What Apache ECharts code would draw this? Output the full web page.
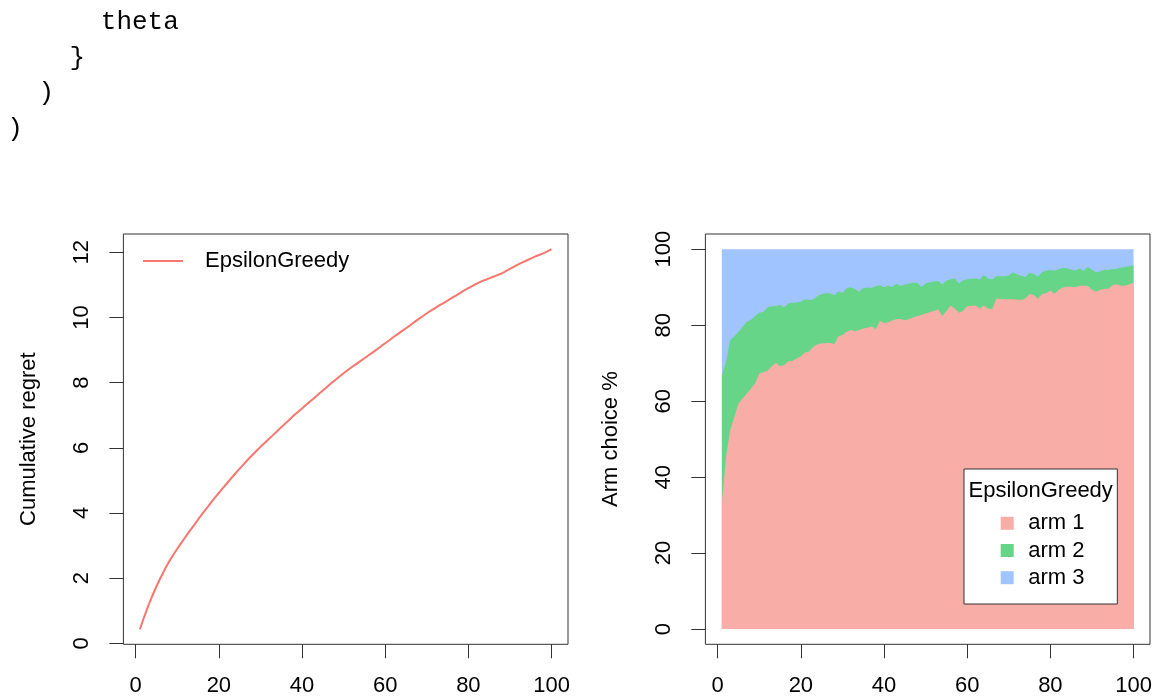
<!DOCTYPE html>
<html><head><meta charset="utf-8">
<script src="https://cdn.jsdelivr.net/npm/echarts@6/dist/echarts.min.js"></script>
<style>html,body{margin:0;padding:0;background:#fff}#c{width:1162px;height:699px}</style>
</head><body><div id="c"></div>
<script>
// ---- data ----
const codeLines = ['      theta', '    }', '  )', ')'];
const xTicks = [0, 20, 40, 60, 80, 100];
const regretTicks = [0, 2, 4, 6, 8, 10, 12];
const pctTicks = [0, 20, 40, 60, 80, 100];
const policyName = 'EpsilonGreedy';
const armNames = ['arm 1', 'arm 2', 'arm 3'];

const regret = [0.43,0.80,1.14,1.46,1.75,2.02,2.27,2.50,2.71,2.90,
3.09,3.27,3.45,3.62,3.80,3.97,4.13,4.30,4.46,4.62,
4.77,4.92,5.07,5.22,5.36,5.50,5.64,5.77,5.90,6.03,
6.15,6.27,6.39,6.51,6.63,6.75,6.87,6.99,7.10,7.21,
7.32,7.43,7.54,7.65,7.76,7.87,7.98,8.08,8.19,8.29,
8.39,8.48,8.57,8.66,8.75,8.84,8.93,9.02,9.12,9.21,
9.30,9.40,9.49,9.58,9.67,9.76,9.86,9.95,10.04,10.13,
10.21,10.29,10.37,10.44,10.52,10.60,10.67,10.75,10.83,10.90,
10.97,11.04,11.10,11.15,11.20,11.25,11.30,11.35,11.42,11.49,
11.56,11.63,11.69,11.75,11.81,11.87,11.92,11.97,12.03,12.10];

// share of arm 1 (%)
const arm1Pct = [33.3,45.4,52.4,55.9,59.4,60.7,62.0,63.3,64.7,67.3,
67.7,68.0,69.2,70.1,69.2,69.5,70.5,70.6,71.2,71.8,
72.8,73.1,74.3,75.0,75.2,75.3,75.4,75.0,77.0,77.4,
78.3,78.7,78.4,78.7,79.1,79.3,79.7,78.9,81.1,80.6,
80.8,81.2,81.6,81.6,81.3,81.6,82.0,82.4,82.7,83.1,
83.4,83.8,84.1,82.4,83.7,85.1,84.4,83.3,83.8,85.0,
85.1,85.2,84.4,85.2,84.4,84.2,87.0,86.9,86.8,86.8,
86.8,86.7,86.6,87.0,88.2,88.0,86.9,88.2,88.4,89.1,
88.3,89.3,89.9,90.1,90.1,90.0,90.4,90.4,90.3,89.3,
88.8,89.3,89.6,89.6,90.6,90.8,90.4,90.4,90.8,91.2];

// share of arm 1 + arm 2 (%)
const arm12Pct = [66.7,70.4,76.1,77.1,78.3,79.6,80.9,81.4,82.4,83.3,
83.5,84.7,85.0,85.0,85.3,84.7,85.7,85.9,86.0,86.2,
86.8,86.6,86.8,87.7,88.2,88.4,88.4,87.9,88.9,88.5,
89.7,90.0,89.5,88.8,89.8,89.9,89.8,90.3,90.5,90.0,
90.4,90.1,90.9,90.3,90.7,91.0,91.2,91.2,90.1,91.0,
91.3,91.5,91.6,90.8,91.7,92.1,92.3,91.0,91.8,92.1,
92.2,92.3,92.0,93.2,92.3,92.0,92.9,92.9,92.9,93.1,
93.9,93.4,93.0,92.7,93.8,93.5,92.8,94.0,94.4,94.5,
94.3,94.7,95.1,95.0,94.6,94.4,94.9,94.3,95.3,94.6,
93.9,94.2,94.6,94.5,94.8,94.8,95.2,95.4,95.5,95.8];

// ---- derived ----
const steps = regret.map((_, i) => i + 1);
const arm2Pct = arm12Pct.map((v, i) => v - arm1Pct[i]);
const arm3Pct = arm12Pct.map(v => 100 - v);
const cum1 = arm1Pct;
const cum2 = arm1Pct.map((v, i) => v + arm2Pct[i]);
const cum3 = cum2.map((v, i) => v + arm3Pct[i]);

const FONT = '"Liberation Sans", Arial, Helvetica, sans-serif';
const armColors = ['#F9ADA7', '#66D587', '#A0C4FF'];
const lineColor = '#F8766D';
const inkColor = '#000';
const frameColor = '#333';

function xAxisDef(gi) {
  return {
    type: 'value', gridIndex: gi, min: -2.96, max: 103.96,
    axisLine: { show: false, onZero: false },
    axisTick: { show: true, inside: false, length: 14, customValues: xTicks, lineStyle: { color: frameColor, width: 1 } },
    axisLabel: { customValues: xTicks, margin: 31, fontSize: 22, color: inkColor, fontFamily: FONT },
    splitLine: { show: false }
  };
}
function yAxisDef(gi, ticks, min, max, name) {
  return {
    type: 'value', gridIndex: gi, min: min, max: max,
    name: name, nameLocation: 'middle', nameGap: 83,
    nameTextStyle: { fontSize: 22, color: inkColor, fontFamily: FONT },
    axisLine: { show: false, onZero: false },
    axisTick: { show: true, inside: false, length: 14, customValues: ticks, lineStyle: { color: frameColor, width: 1 } },
    axisLabel: { customValues: ticks, rotate: 90, margin: 30, fontSize: 22, color: inkColor, fontFamily: FONT },
    splitLine: { show: false }
  };
}
function areaSeries(name, data, color) {
  return {
    type: 'line', name: name, xAxisIndex: 1, yAxisIndex: 1,
    data: steps.map((t, i) => [t, data[i]]),
    showSymbol: false, symbol: 'none', color: color,
    itemStyle: { color: color },
    lineStyle: { width: 0, color: color },
    areaStyle: { color: color, opacity: 1, origin: 'auto' },
    z: 2, silent: true
  };
}

const chart = echarts.init(document.getElementById('c'), null, { renderer: 'canvas' });
chart.setOption({
  animation: false,
  backgroundColor: '#fff',
  textStyle: { fontFamily: FONT },
  grid: [
    { left: 123.4, top: 234, width: 444.6, height: 410.3, show: true, borderColor: frameColor, borderWidth: 1, backgroundColor: 'transparent', outerBoundsMode: 'none', containLabel: false },
    { left: 705.4, top: 234, width: 444.6, height: 410.3, show: true, borderColor: frameColor, borderWidth: 1, backgroundColor: 'transparent', outerBoundsMode: 'none', containLabel: false }
  ],
  xAxis: [xAxisDef(0), xAxisDef(1)],
  yAxis: [
    yAxisDef(0, regretTicks, -0.031, 12.563, 'Cumulative regret'),
    yAxisDef(1, pctTicks, -4, 104, 'Arm choice %')
  ],
  title: {
    text: policyName, left: 1040.7, top: 477.7, textAlign: 'center', padding: 0, z: 20,
    textStyle: { fontSize: 22, fontWeight: 'normal', color: inkColor, fontFamily: FONT, lineHeight: 26 }
  },
  legend: [
    {
      data: [policyName], left: 143, top: 248, padding: 0, z: 10,
      icon: 'rect', itemWidth: 40, itemHeight: 2, selectedMode: false,
      textStyle: { fontSize: 22, color: inkColor, fontFamily: FONT, lineHeight: 26, padding: [0, 0, 0, 17] }
    },
    {
      data: armNames, orient: 'vertical', left: 964, top: 469, z: 10,
      padding: [43.3, 32.8, 15.3, 36.7], itemGap: 5.2,
      icon: 'rect', itemWidth: 13, itemHeight: 13, selectedMode: false,
      backgroundColor: '#fff', borderColor: frameColor, borderWidth: 1,
      textStyle: { fontSize: 22, color: inkColor, fontFamily: FONT, lineHeight: 22, padding: [0, 0, 0, 9.6] }
    }
  ],
  graphic: [{
    type: 'text', x: 7.2, y: 4.5,
    style: { text: codeLines.join('\n'), font: '26px "Liberation Mono", "DejaVu Sans Mono", monospace', lineHeight: 35.5, fill: '#000', verticalAlign: 'top', align: 'left' }
  }],
  series: [
    {
      type: 'line', name: policyName, xAxisIndex: 0, yAxisIndex: 0,
      data: steps.map((t, i) => [t, regret[i]]),
      showSymbol: false, symbol: 'none', color: lineColor,
      lineStyle: { width: 2, color: lineColor }, silent: true, z: 3
    },
    areaSeries(armNames[2], cum3, armColors[2]),
    areaSeries(armNames[1], cum2, armColors[1]),
    areaSeries(armNames[0], cum1, armColors[0])
  ]
});
</script>
</body></html>
